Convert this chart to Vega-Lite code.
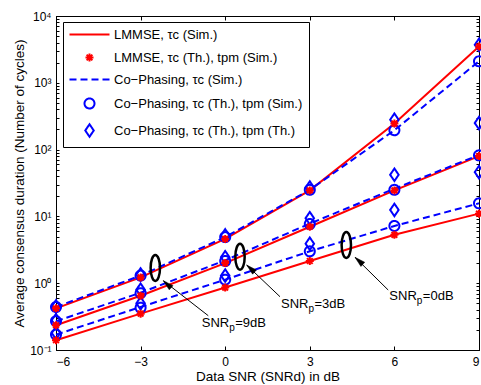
{
  "$schema": "https://vega.github.io/schema/vega-lite/v6.json",
  "width": 423,
  "height": 334,
  "autosize": {"type": "none"},
  "padding": {"left": 56, "top": 16, "right": 2, "bottom": 35},
  "background": "white",
  "config": {
    "font": "Liberation Sans",
    "view": {"stroke": "black", "strokeWidth": 1},
    "axis": {
      "grid": false,
      "domainColor": "black",
      "tickColor": "black",
      "labelColor": "black",
      "titleColor": "black",
      "labelFont": "Liberation Sans",
      "titleFont": "Liberation Sans",
      "labelFontSize": 12,
      "titleFontSize": 13.5,
      "titleFontWeight": "normal"
    },
    "legend": {
      "orient": "none",
      "legendX": 7,
      "legendY": 6,
      "strokeColor": "black",
      "fillColor": "white",
      "padding": 6,
      "symbolStrokeWidth": 2,
      "symbolSize": 100,
      "labelFont": "Liberation Sans",
      "labelFontSize": 13,
      "labelColor": "black",
      "labelLimit": 400,
      "symbolOffset": 14,
      "labelOffset": 18,
      "rowPadding": 7
    }
  },
  "datasets": {
    "lines": [
      {"snr": -6, "val": 0.42, "series": "LMMSE, τc (Sim.)", "snrp": "9dB"},
      {"snr": -3, "val": 1.22, "series": "LMMSE, τc (Sim.)", "snrp": "9dB"},
      {"snr": 0, "val": 4.6, "series": "LMMSE, τc (Sim.)", "snrp": "9dB"},
      {"snr": 3, "val": 24.5, "series": "LMMSE, τc (Sim.)", "snrp": "9dB"},
      {"snr": 6, "val": 245, "series": "LMMSE, τc (Sim.)", "snrp": "9dB"},
      {"snr": 9, "val": 3500, "series": "LMMSE, τc (Sim.)", "snrp": "9dB"},
      {"snr": -6, "val": 0.235, "series": "LMMSE, τc (Sim.)", "snrp": "3dB"},
      {"snr": -3, "val": 0.65, "series": "LMMSE, τc (Sim.)", "snrp": "3dB"},
      {"snr": 0, "val": 2.0, "series": "LMMSE, τc (Sim.)", "snrp": "3dB"},
      {"snr": 3, "val": 7.0, "series": "LMMSE, τc (Sim.)", "snrp": "3dB"},
      {"snr": 6, "val": 24.5, "series": "LMMSE, τc (Sim.)", "snrp": "3dB"},
      {"snr": 9, "val": 80, "series": "LMMSE, τc (Sim.)", "snrp": "3dB"},
      {"snr": -6, "val": 0.14, "series": "LMMSE, τc (Sim.)", "snrp": "0dB"},
      {"snr": -3, "val": 0.35, "series": "LMMSE, τc (Sim.)", "snrp": "0dB"},
      {"snr": 0, "val": 0.86, "series": "LMMSE, τc (Sim.)", "snrp": "0dB"},
      {"snr": 3, "val": 2.15, "series": "LMMSE, τc (Sim.)", "snrp": "0dB"},
      {"snr": 6, "val": 5.3, "series": "LMMSE, τc (Sim.)", "snrp": "0dB"},
      {"snr": 9, "val": 11, "series": "LMMSE, τc (Sim.)", "snrp": "0dB"},
      {"snr": -6, "val": 0.44, "series": "Co−Phasing, τc (Sim.)", "snrp": "9dB"},
      {"snr": -3, "val": 1.3, "series": "Co−Phasing, τc (Sim.)", "snrp": "9dB"},
      {"snr": 0, "val": 4.9, "series": "Co−Phasing, τc (Sim.)", "snrp": "9dB"},
      {"snr": 3, "val": 25, "series": "Co−Phasing, τc (Sim.)", "snrp": "9dB"},
      {"snr": 6, "val": 195, "series": "Co−Phasing, τc (Sim.)", "snrp": "9dB"},
      {"snr": 9, "val": 2100, "series": "Co−Phasing, τc (Sim.)", "snrp": "9dB"},
      {"snr": -6, "val": 0.27, "series": "Co−Phasing, τc (Sim.)", "snrp": "3dB"},
      {"snr": -3, "val": 0.72, "series": "Co−Phasing, τc (Sim.)", "snrp": "3dB"},
      {"snr": 0, "val": 2.2, "series": "Co−Phasing, τc (Sim.)", "snrp": "3dB"},
      {"snr": 3, "val": 7.8, "series": "Co−Phasing, τc (Sim.)", "snrp": "3dB"},
      {"snr": 6, "val": 26, "series": "Co−Phasing, τc (Sim.)", "snrp": "3dB"},
      {"snr": 9, "val": 83, "series": "Co−Phasing, τc (Sim.)", "snrp": "3dB"},
      {"snr": -6, "val": 0.17, "series": "Co−Phasing, τc (Sim.)", "snrp": "0dB"},
      {"snr": -3, "val": 0.44, "series": "Co−Phasing, τc (Sim.)", "snrp": "0dB"},
      {"snr": 0, "val": 1.13, "series": "Co−Phasing, τc (Sim.)", "snrp": "0dB"},
      {"snr": 3, "val": 3.0, "series": "Co−Phasing, τc (Sim.)", "snrp": "0dB"},
      {"snr": 6, "val": 7.2, "series": "Co−Phasing, τc (Sim.)", "snrp": "0dB"},
      {"snr": 9, "val": 15.7, "series": "Co−Phasing, τc (Sim.)", "snrp": "0dB"}
    ],
    "points": [
      {"snr": -6, "val": 0.44, "series": "Co−Phasing, τc (Th.), tpm (Sim.)"},
      {"snr": -3, "val": 1.3, "series": "Co−Phasing, τc (Th.), tpm (Sim.)"},
      {"snr": 0, "val": 4.9, "series": "Co−Phasing, τc (Th.), tpm (Sim.)"},
      {"snr": 3, "val": 25, "series": "Co−Phasing, τc (Th.), tpm (Sim.)"},
      {"snr": 6, "val": 195, "series": "Co−Phasing, τc (Th.), tpm (Sim.)"},
      {"snr": 9, "val": 2100, "series": "Co−Phasing, τc (Th.), tpm (Sim.)"},
      {"snr": -6, "val": 0.27, "series": "Co−Phasing, τc (Th.), tpm (Sim.)"},
      {"snr": -3, "val": 0.71, "series": "Co−Phasing, τc (Th.), tpm (Sim.)"},
      {"snr": 0, "val": 2.15, "series": "Co−Phasing, τc (Th.), tpm (Sim.)"},
      {"snr": 3, "val": 7.7, "series": "Co−Phasing, τc (Th.), tpm (Sim.)"},
      {"snr": 6, "val": 25, "series": "Co−Phasing, τc (Th.), tpm (Sim.)"},
      {"snr": 9, "val": 82, "series": "Co−Phasing, τc (Th.), tpm (Sim.)"},
      {"snr": -6, "val": 0.17, "series": "Co−Phasing, τc (Th.), tpm (Sim.)"},
      {"snr": -3, "val": 0.43, "series": "Co−Phasing, τc (Th.), tpm (Sim.)"},
      {"snr": 0, "val": 1.13, "series": "Co−Phasing, τc (Th.), tpm (Sim.)"},
      {"snr": 3, "val": 3.0, "series": "Co−Phasing, τc (Th.), tpm (Sim.)"},
      {"snr": 6, "val": 7.2, "series": "Co−Phasing, τc (Th.), tpm (Sim.)"},
      {"snr": 9, "val": 15.7, "series": "Co−Phasing, τc (Th.), tpm (Sim.)"},
      {"snr": -6, "val": 0.45, "series": "Co−Phasing, τc (Th.), tpm (Th.)"},
      {"snr": -3, "val": 1.35, "series": "Co−Phasing, τc (Th.), tpm (Th.)"},
      {"snr": 0, "val": 5.2, "series": "Co−Phasing, τc (Th.), tpm (Th.)"},
      {"snr": 3, "val": 27, "series": "Co−Phasing, τc (Th.), tpm (Th.)"},
      {"snr": 6, "val": 280, "series": "Co−Phasing, τc (Th.), tpm (Th.)"},
      {"snr": 9, "val": 3700, "series": "Co−Phasing, τc (Th.), tpm (Th.)"},
      {"snr": -6, "val": 0.28, "series": "Co−Phasing, τc (Th.), tpm (Th.)"},
      {"snr": -3, "val": 0.8, "series": "Co−Phasing, τc (Th.), tpm (Th.)"},
      {"snr": 0, "val": 2.45, "series": "Co−Phasing, τc (Th.), tpm (Th.)"},
      {"snr": 3, "val": 9.4, "series": "Co−Phasing, τc (Th.), tpm (Th.)"},
      {"snr": 6, "val": 42, "series": "Co−Phasing, τc (Th.), tpm (Th.)"},
      {"snr": 9, "val": 250, "series": "Co−Phasing, τc (Th.), tpm (Th.)"},
      {"snr": -6, "val": 0.18, "series": "Co−Phasing, τc (Th.), tpm (Th.)"},
      {"snr": -3, "val": 0.5, "series": "Co−Phasing, τc (Th.), tpm (Th.)"},
      {"snr": 0, "val": 1.3, "series": "Co−Phasing, τc (Th.), tpm (Th.)"},
      {"snr": 3, "val": 3.9, "series": "Co−Phasing, τc (Th.), tpm (Th.)"},
      {"snr": 6, "val": 12.5, "series": "Co−Phasing, τc (Th.), tpm (Th.)"},
      {"snr": 9, "val": 46, "series": "Co−Phasing, τc (Th.), tpm (Th.)"},
      {"snr": -6, "val": 0.42, "series": "LMMSE, τc (Th.), tpm (Sim.)"},
      {"snr": -3, "val": 1.22, "series": "LMMSE, τc (Th.), tpm (Sim.)"},
      {"snr": 0, "val": 4.6, "series": "LMMSE, τc (Th.), tpm (Sim.)"},
      {"snr": 3, "val": 24.5, "series": "LMMSE, τc (Th.), tpm (Sim.)"},
      {"snr": 6, "val": 245, "series": "LMMSE, τc (Th.), tpm (Sim.)"},
      {"snr": 9, "val": 3500, "series": "LMMSE, τc (Th.), tpm (Sim.)"},
      {"snr": -6, "val": 0.235, "series": "LMMSE, τc (Th.), tpm (Sim.)"},
      {"snr": -3, "val": 0.65, "series": "LMMSE, τc (Th.), tpm (Sim.)"},
      {"snr": 0, "val": 2.0, "series": "LMMSE, τc (Th.), tpm (Sim.)"},
      {"snr": 3, "val": 7.0, "series": "LMMSE, τc (Th.), tpm (Sim.)"},
      {"snr": 6, "val": 24.5, "series": "LMMSE, τc (Th.), tpm (Sim.)"},
      {"snr": 9, "val": 80, "series": "LMMSE, τc (Th.), tpm (Sim.)"},
      {"snr": -6, "val": 0.14, "series": "LMMSE, τc (Th.), tpm (Sim.)"},
      {"snr": -3, "val": 0.35, "series": "LMMSE, τc (Th.), tpm (Sim.)"},
      {"snr": 0, "val": 0.86, "series": "LMMSE, τc (Th.), tpm (Sim.)"},
      {"snr": 3, "val": 2.15, "series": "LMMSE, τc (Th.), tpm (Sim.)"},
      {"snr": 6, "val": 5.3, "series": "LMMSE, τc (Th.), tpm (Sim.)"},
      {"snr": 9, "val": 11, "series": "LMMSE, τc (Th.), tpm (Sim.)"}
    ],
    "ann": [
      {"lab": "9dB", "ex": -2.478, "ey": 1.69, "hx": -2.195, "hy": 1.09, "sx": -0.6, "sy": 0.326, "lx": -0.833, "ly": 0.251, "rest": "=9dB"},
      {"lab": "3dB", "ex": 0.525, "ey": 2.49, "hx": 0.762, "hy": 1.87, "sx": 1.943, "sy": 0.628, "lx": 1.979, "ly": 0.489, "rest": "=3dB"},
      {"lab": "0dB", "ex": 4.295, "ey": 3.73, "hx": 4.603, "hy": 2.44, "sx": 5.78, "sy": 0.791, "lx": 5.82, "ly": 0.65, "rest": "=0dB"}
    ]
  },
  "layer": [
    {
      "data": {"name": "lines"},
      "transform": [{"filter": "datum.series == 'LMMSE, τc (Sim.)'"}],
      "mark": {"type": "line", "strokeWidth": 2, "color": "#ff0000"},
      "encoding": {
        "x": {
          "field": "snr", "type": "quantitative",
          "scale": {"domain": [-6, 9], "nice": false, "zero": false},
          "axis": {"orient": "bottom", "values": [-6, -3, 0, 3, 6, 9], "tickSize": -4, "labelPadding": 10, "title": "Data SNR (SNRd) in dB", "titlePadding": 2}
        },
        "y": {
          "field": "val", "type": "quantitative",
          "scale": {"type": "log", "domain": [0.1, 10000], "nice": false},
          "axis": {
            "orient": "left",
            "values": [0.1,0.2,0.3,0.4,0.5,0.6,0.7,0.8,0.9,1,2,3,4,5,6,7,8,9,10,20,30,40,50,60,70,80,90,100,200,300,400,500,600,700,800,900,1000,2000,3000,4000,5000,6000,7000,8000,9000,10000],
            "labelExpr": "datum.value==0.1?'10⁻¹':datum.value==1?'10⁰':datum.value==10?'10¹':datum.value==100?'10²':datum.value==1000?'10³':datum.value==10000?'10⁴':''",
            "labelOverlap": false,
            "tickSize": -3,
            "labelPadding": 8,
            "title": "Average consensus duration (Number of cycles)",
            "titlePadding": 3
          }
        },
        "detail": {"field": "snrp"}
      }
    },
    {
      "data": {"name": "lines"},
      "transform": [{"filter": "datum.series == 'Co−Phasing, τc (Sim.)'"}],
      "mark": {"type": "line", "strokeWidth": 2, "color": "#0000ff", "strokeDash": [7, 4]},
      "encoding": {
        "x": {"field": "snr", "type": "quantitative", "scale": {"domain": [-6, 9], "nice": false, "zero": false}, "axis": null},
        "y": {"field": "val", "type": "quantitative", "scale": {"type": "log", "domain": [0.1, 10000], "nice": false}, "axis": null},
        "detail": {"field": "snrp"}
      }
    },
    {
      "data": {"name": "points"},
      "mark": {"type": "point", "filled": false, "strokeWidth": 2, "size": 100, "opacity": 1},
      "encoding": {
        "x": {
          "field": "snr", "type": "quantitative",
          "scale": {"domain": [-6, 9], "nice": false, "zero": false},
          "axis": {"orient": "top", "values": [-6, -3, 0, 3, 6, 9], "tickSize": -4, "labels": false, "title": null}
        },
        "y": {
          "field": "val", "type": "quantitative",
          "scale": {"type": "log", "domain": [0.1, 10000], "nice": false},
          "axis": {
            "orient": "right",
            "values": [0.1,0.2,0.3,0.4,0.5,0.6,0.7,0.8,0.9,1,2,3,4,5,6,7,8,9,10,20,30,40,50,60,70,80,90,100,200,300,400,500,600,700,800,900,1000,2000,3000,4000,5000,6000,7000,8000,9000,10000],
            "tickSize": -3, "labels": false, "title": null
          }
        },
        "color": {
          "field": "series", "type": "nominal", "title": null,
          "scale": {"domain": ["LMMSE, τc (Sim.)", "LMMSE, τc (Th.), tpm (Sim.)", "Co−Phasing, τc (Sim.)", "Co−Phasing, τc (Th.), tpm (Sim.)", "Co−Phasing, τc (Th.), tpm (Th.)"], "range": ["#ff0000", "#ff0000", "#0000ff", "#0000ff", "#0000ff"]}
        },
        "shape": {
          "field": "series", "type": "nominal", "title": null,
          "scale": {"domain": ["LMMSE, τc (Sim.)", "LMMSE, τc (Th.), tpm (Sim.)", "Co−Phasing, τc (Sim.)", "Co−Phasing, τc (Th.), tpm (Sim.)", "Co−Phasing, τc (Th.), tpm (Th.)"], "range": ["M-4,0L4,0", "M-0.8,0L0.8,0M0,-0.8L0,0.8M-0.57,-0.57L0.57,0.57M-0.57,0.57L0.57,-0.57", "M-4,0L4,0", "circle", "M0,-1.25L0.85,0L0,1.25L-0.85,0Z"]}
        },
        "strokeDash": {
          "field": "series", "type": "nominal", "title": null,
          "scale": {"domain": ["LMMSE, τc (Sim.)", "LMMSE, τc (Th.), tpm (Sim.)", "Co−Phasing, τc (Sim.)", "Co−Phasing, τc (Th.), tpm (Sim.)", "Co−Phasing, τc (Th.), tpm (Th.)"], "range": [[1, 0], [1, 0], [7, 4], [1, 0], [1, 0]]}
        }
      }
    },
    {
      "data": {"name": "ann"},
      "mark": {"type": "point", "filled": false, "stroke": "black", "strokeWidth": 2.5, "opacity": 1, "size": 676, "shape": "M0,-1C0.199,-1 0.36,-0.552 0.36,0C0.36,0.552 0.199,1 0,1C-0.199,1 -0.36,0.552 -0.36,0C-0.36,-0.552 -0.199,-1 0,-1Z"},
      "encoding": {
        "x": {"field": "ex", "type": "quantitative", "scale": {"domain": [-6, 9], "nice": false, "zero": false}, "axis": null},
        "y": {"field": "ey", "type": "quantitative", "scale": {"type": "log", "domain": [0.1, 10000], "nice": false}, "axis": null}
      }
    },
    {
      "data": {"name": "ann"},
      "mark": {"type": "rule", "color": "black", "strokeWidth": 1},
      "encoding": {
        "x": {"field": "sx", "type": "quantitative", "scale": {"domain": [-6, 9], "nice": false, "zero": false}, "axis": null},
        "y": {"field": "sy", "type": "quantitative", "scale": {"type": "log", "domain": [0.1, 10000], "nice": false}, "axis": null},
        "x2": {"field": "hx"},
        "y2": {"field": "hy"}
      }
    },
    {
      "data": {"name": "ann"},
      "mark": {"type": "point", "filled": true, "fill": "black", "stroke": "black", "strokeWidth": 0.5, "size": 196, "angle": 312, "opacity": 1, "shape": "M0,0L-0.4,1.5L0.4,1.5Z"},
      "encoding": {
        "x": {"field": "hx", "type": "quantitative", "scale": {"domain": [-6, 9], "nice": false, "zero": false}, "axis": null},
        "y": {"field": "hy", "type": "quantitative", "scale": {"type": "log", "domain": [0.1, 10000], "nice": false}, "axis": null}
      }
    },
    {
      "data": {"name": "ann"},
      "mark": {"type": "text", "align": "left", "baseline": "middle", "fontSize": 13, "font": "Liberation Sans", "color": "black"},
      "encoding": {
        "x": {"field": "lx", "type": "quantitative", "scale": {"domain": [-6, 9], "nice": false, "zero": false}, "axis": null},
        "y": {"field": "ly", "type": "quantitative", "scale": {"type": "log", "domain": [0.1, 10000], "nice": false}, "axis": null},
        "text": {"value": "SNR"}
      }
    },
    {
      "data": {"name": "ann"},
      "mark": {"type": "text", "align": "left", "baseline": "middle", "fontSize": 10, "font": "Liberation Sans", "color": "black", "dx": 27.5, "dy": 5},
      "encoding": {
        "x": {"field": "lx", "type": "quantitative", "scale": {"domain": [-6, 9], "nice": false, "zero": false}, "axis": null},
        "y": {"field": "ly", "type": "quantitative", "scale": {"type": "log", "domain": [0.1, 10000], "nice": false}, "axis": null},
        "text": {"value": "p"}
      }
    },
    {
      "data": {"name": "ann"},
      "mark": {"type": "text", "align": "left", "baseline": "middle", "fontSize": 13, "font": "Liberation Sans", "color": "black", "dx": 33.5},
      "encoding": {
        "x": {"field": "lx", "type": "quantitative", "scale": {"domain": [-6, 9], "nice": false, "zero": false}, "axis": null},
        "y": {"field": "ly", "type": "quantitative", "scale": {"type": "log", "domain": [0.1, 10000], "nice": false}, "axis": null},
        "text": {"field": "rest"}
      }
    }
  ],
  "resolve": {"axis": {"x": "independent", "y": "independent"}}
}
